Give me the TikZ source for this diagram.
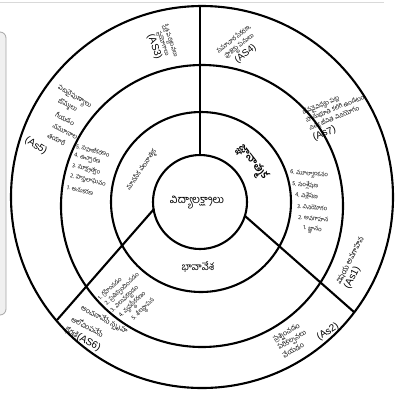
\documentclass[tikz,border=0pt]{standalone}
\usepackage{fontspec}
\newfontfamily\te[Script=Telugu]{Hind Guntur}
\newfontfamily\lat{Liberation Sans}
\begin{document}
\begin{tikzpicture}[x=1pt,y=-1pt,
  ring/.style={line width=2.1pt, draw=black},
  divider/.style={line width=2.1pt, draw=black},
  tel/.style={font=\te\fontsize{6.3}{8.5}\selectfont, inner sep=0pt},
  aslab/.style={font=\lat\fontsize{10}{10}\selectfont, inner sep=0pt},
  lineitem/.style={font=\te\fontsize{6.5}{7}\selectfont, inner sep=0pt, anchor=west},
  listitem/.style={font=\te\fontsize{6}{6}\selectfont, inner sep=0pt, anchor=west}]
\useasboundingbox (0,0) rectangle (401,394);
\fill[white] (0,0) rectangle (401,394);
% background panel and top rule
\draw[rounded corners=6pt, fill=gray!12, draw=gray!70, line width=0.8pt] (-20,32) rectangle (6,315);
\draw[gray!30, line width=1pt] (0,2.5) -- (384,2.5);
% circles
\coordinate (cin) at (200,202);
\coordinate (cmid) at (201,202);
\coordinate (cthird) at (202,206);
\coordinate (cout) at (202,197);
\draw[ring] (cin) circle[radius=47];
\draw[ring] (cmid) circle[radius=90];
\draw[ring] (cthird) circle[radius=141];
\draw[ring] (cout) circle[radius=191];
% dividers
\coordinate (t1) at (200,155);
\coordinate (t2) at (200,6);
\coordinate (l1) at (154,209);
\coordinate (l2) at (57,320);
\coordinate (r1) at (245,216);
\coordinate (r2) at (354,312);
\draw[divider] (t1) -- (t2);
\draw[divider] (l1) -- (l2);
\draw[divider] (r1) -- (r2);
% centre
\node[font=\te\fontsize{11}{11}\selectfont, inner sep=0pt] (centre) at (197,203) {విద్యాలక్ష్యాలు};
% domains
\node[font=\te\bfseries\fontsize{11}{11}\selectfont, inner sep=0pt, rotate=-52] (cog) at (252,163) {జ్ఞానాత్మక};
\node[font=\te\fontsize{6.5}{6.5}\selectfont, inner sep=0pt, rotate=56] (psy) at (142,170) {మానసిక చలనాత్మక};
\node[font=\te\fontsize{10}{10}\selectfont, inner sep=0pt] (aff) at (198,267) {భావావేశ};
% cognitive list
\node[listitem, rotate=-5] (c6) at (290,173) {6. మూల్యాంకనం};
\node[listitem, rotate=-5] (c5) at (292,184) {5. సంశ్లేషణ};
\node[listitem, rotate=-5] (c4) at (295,195) {4. విశ్లేషణ};
\node[listitem, rotate=-5] (c3) at (297,206) {3. వినియోగం};
\node[listitem, rotate=-5] (c2) at (298,217) {2. అవగాహన};
\node[listitem, rotate=-5] (c1) at (303,229) {1. జ్ఞానం};
% psychomotor list
\node[listitem, rotate=-14] (p5) at (76,146) {5. సహజీకరణం};
\node[listitem, rotate=-14] (p4) at (74,156) {4. ఉచ్చారణ};
\node[listitem, rotate=-14] (p3) at (72,166) {3. సూక్ష్మత్వం};
\node[listitem, rotate=-14] (p2) at (70,176) {2. హస్తలాఘవం};
\node[listitem, rotate=-14] (p1) at (67,187) {1. అనుకరణ};
% affective list
\node[listitem, rotate=43] (a1) at (99,299) {1. గ్రహించడం};
\node[listitem, rotate=43] (a2) at (106,305) {2. ప్రతిస్పందించడం};
\node[listitem, rotate=43] (a3) at (112,312) {3. విలువకట్టడం};
\node[listitem, rotate=43] (a4) at (120,317) {4. వ్యవస్థీకరణం};
\node[listitem, rotate=43] (a5) at (133,320) {5. శీలస్థాపన};
% outer ring: academic standards
\node[tel, font=\te\fontsize{6}{8}\selectfont, rotate=-70, align=center] (as3) at (162,44) {క్షేత్ర పర్యటనలు\\ ప్రయోగాలు\\ {\lat\fontsize{10}{11}\selectfont (AS3)}};
\node[tel, rotate=38, align=center] (as4) at (240,47) {సమాచార సేకరణ,\\ ప్రాజెక్టు పనులు\\ {\lat\fontsize{9.5}{10}\selectfont (AS4)}};
\node[tel, rotate=22, align=left] (as7) at (338,114) {జీవవైవిధ్యం పట్ల\\ సానుభూతి కలిగి ఉండటం,\\ నిత్య జీవిత వినియోగం\\ {\lat\fontsize{10}{11}\selectfont (As7)}};
\node[tel, font=\te\fontsize{7.5}{9}\selectfont, rotate=63, align=left] (as1) at (355,263) {విషయ అవగాహన\\[1pt] {\lat\fontsize{10}{11}\selectfont (As1)}};
\node[tel, font=\te\fontsize{7}{9}\selectfont, rotate=30, align=left] (as2) at (292,340) {ప్రశ్నించడం\\ పరికల్పనలు\\ చేయడం};
\node[aslab, rotate=33] (as2l) at (328,332) {(As2)};
% AS6 lines
\node[lineitem, font=\te\fontsize{7}{7}\selectfont, rotate=-28] (as6a) at (81,308) {అంచనావేసే స్పృహ};
\node[lineitem, font=\te\fontsize{7}{7}\selectfont, rotate=-28] (as6b) at (72,318) {ఆలోచింపచేసే};
\node[lineitem, font=\te\fontsize{7}{7}\selectfont, rotate=-30] (as6c) at (65,329) {ధోరణి{\lat\fontsize{10}{10}\selectfont (AS6)}};
% AS5 lines
\node[lineitem, rotate=-30] (as5a) at (58,88) {పటనైపుణ్యాలు};
\node[lineitem, rotate=-27] (as5b) at (58,101) {బొమ్మలు};
\node[lineitem, rotate=-27] (as5c) at (56,114) {గీయడం};
\node[lineitem, rotate=-27] (as5d) at (53,125) {నమూనాల};
\node[lineitem, rotate=-27] (as5e) at (48,135) {తయారీ};
\node[aslab, rotate=-32] (as5l) at (36,146) {(As5)};
\end{tikzpicture}
\end{document}
